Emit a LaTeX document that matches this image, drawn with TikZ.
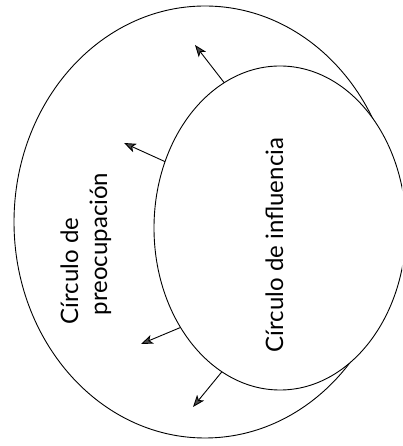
\documentclass[tikz,border=0pt]{standalone}
\usepackage{fontspec}
\setmainfont{Lato}
\usetikzlibrary{shapes.geometric,arrows.meta}
\begin{document}
\begin{tikzpicture}[x=1pt,y=1pt,
  ring/.style={draw=black,line width=0.9pt,ellipse,inner sep=0pt,outer sep=0pt},
  outarrow/.style={line width=0.9pt,-{Stealth[length=12pt,width=9pt,inset=3pt,fill=black!70]}},
  lbl/.style={rotate=90,anchor=base,inner sep=0pt,font=\fontsize{24}{28}\selectfont}]
\useasboundingbox (0,0) rectangle (402,446);
\clip (0,0) rectangle (402,446);
\node[ring,minimum width=382pt,minimum height=432pt] (outer) at (205,224) {};
\node[ring,fill=white,minimum width=252pt,minimum height=324pt] (inner) at (280,218) {};
\coordinate (t1) at (195,401);
\coordinate (t2) at (124,303);
\coordinate (t3) at (141,102);
\coordinate (t4) at (193,39);
\draw[outarrow] (inner.111.8) -- (t1);
\draw[outarrow] (inner.150.5) -- (t2);
\draw[outarrow] (inner.225.3) -- (t3);
\draw[outarrow] (inner.248.7) -- (t4);
\node[lbl] (c1) at (78,175) {Círculo de};
\node[lbl] (c2) at (107,202) {preocupación};
\node[lbl] (ci) at (283,201) {Círculo de influencia};
\end{tikzpicture}
\end{document}
